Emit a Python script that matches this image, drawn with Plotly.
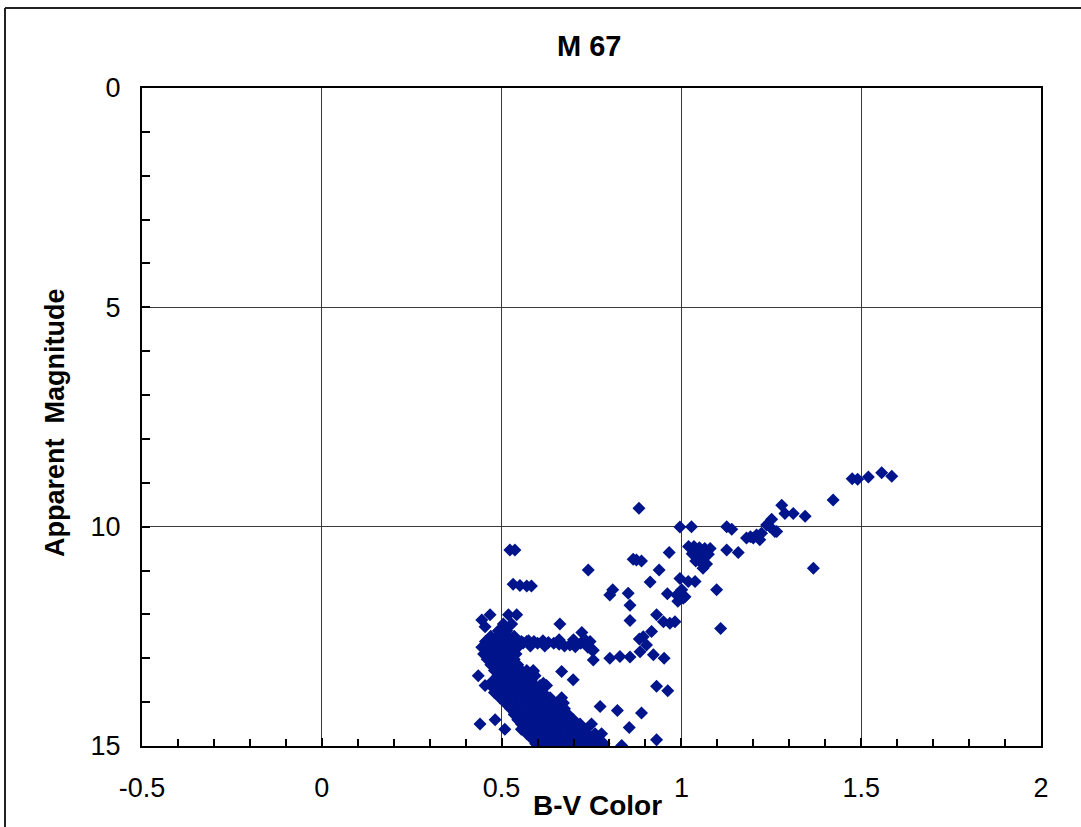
import plotly.graph_objects as go

# M 67 colour-magnitude diagram: (B-V, V) pairs grouped by region of the diagram

# Upper main sequence / turnoff, listed row by row: (V, [B-V values])
ms_rows = [
    (12.01, [0.468, 0.519, 0.542]),
    (12.13, [0.445]),
    (12.22, [0.505, 0.528]),
    (12.28, [0.454]),
    (12.37, [0.491, 0.514]),
    (12.50, [0.470, 0.490, 0.500, 0.520, 0.535]),
    (12.62, [0.455, 0.475, 0.490, 0.510, 0.525, 0.540, 0.555, 0.570]),
    (12.75, [0.445, 0.460, 0.480, 0.495, 0.510, 0.530, 0.545]),
    (12.90, [0.450, 0.465, 0.480, 0.495, 0.510, 0.525, 0.540]),
    (13.02, [0.460, 0.475, 0.490, 0.505, 0.520, 0.535]),
    (13.15, [0.470, 0.485, 0.500, 0.515, 0.530, 0.545]),
    (13.28, [0.480, 0.495, 0.510, 0.525, 0.540, 0.555, 0.570, 0.588]),
    (13.40, [0.435, 0.490, 0.505, 0.520, 0.535, 0.550, 0.565, 0.580, 0.593]),
    (13.52, [0.475, 0.490, 0.505, 0.520, 0.535, 0.550, 0.565, 0.583]),
    (13.62, [0.454, 0.470, 0.485, 0.500, 0.515, 0.530, 0.545, 0.560, 0.575, 0.590, 0.607, 0.625]),
    (13.78, [0.480, 0.495, 0.510, 0.525, 0.540, 0.555, 0.570, 0.585, 0.600, 0.615]),
    (13.90, [0.495, 0.510, 0.525, 0.540, 0.555, 0.570, 0.585, 0.600, 0.615, 0.635, 0.667]),
    (14.02, [0.510, 0.525, 0.540, 0.555, 0.570, 0.585, 0.600, 0.615, 0.630, 0.653, 0.672]),
    (14.15, [0.525, 0.540, 0.555, 0.570, 0.585, 0.600, 0.615, 0.630, 0.645, 0.660, 0.675]),
    (14.28, [0.535, 0.550, 0.565, 0.580, 0.595, 0.610, 0.625, 0.640, 0.655, 0.670, 0.685]),
    (14.40, [0.482, 0.545, 0.560, 0.575, 0.590, 0.605, 0.620, 0.635, 0.650, 0.665, 0.680, 0.700]),
    (14.50, [0.440, 0.555, 0.570, 0.585, 0.600, 0.615, 0.630, 0.645, 0.660, 0.675, 0.699, 0.718, 0.750]),
    (14.62, [0.509, 0.555, 0.570, 0.585, 0.600, 0.615, 0.630, 0.645, 0.660, 0.675, 0.690, 0.705, 0.720, 0.735]),
    (14.72, [0.570, 0.585, 0.600, 0.615, 0.630, 0.645, 0.660, 0.675, 0.690, 0.705, 0.720, 0.740, 0.760, 0.778]),
    (14.84, [0.585, 0.600, 0.615, 0.630, 0.645, 0.660, 0.675, 0.690, 0.705, 0.720, 0.735, 0.750, 0.765]),
    (14.95, [0.595, 0.610, 0.625, 0.640, 0.655, 0.670, 0.685, 0.700, 0.715, 0.730, 0.745, 0.760, 0.775, 0.785]),
]

# Subgiant branch running right from the turnoff
sg_bv = [0.560, 0.575, 0.590, 0.600, 0.615, 0.630, 0.645, 0.660, 0.675, 0.690, 0.705,
         0.720, 0.735, 0.740, 0.755, 0.700, 0.660, 0.620, 0.580, 0.746, 0.751]
sg_v = [12.65, 12.60, 12.62, 12.66, 12.60, 12.64, 12.66, 12.68, 12.72, 12.70, 12.74,
        12.66, 12.60, 12.75, 12.82, 12.58, 12.58, 12.72, 12.72, 12.62, 12.81]

# Lower giant branch and scattered stars between turnoff and giants
mid_bv = [0.662, 0.723, 0.741, 0.801, 0.809, 0.852, 0.857, 0.857, 0.875, 0.866, 0.889,
          0.882, 0.913, 0.938, 0.966, 0.961, 0.931, 0.950, 0.968, 0.982, 0.917, 0.894,
          0.883, 0.903, 0.885, 0.857, 0.829, 0.801, 0.755, 0.922, 0.952, 0.931, 0.962,
          0.667, 0.699, 0.774, 0.822, 0.889, 0.855, 0.931, 0.834, 0.523, 0.537, 0.532,
          0.551, 0.570, 0.583, 0.588, 0.616]
mid_v = [12.22, 12.41, 10.99, 11.56, 11.44, 11.52, 11.79, 12.14, 10.76, 10.74, 10.78,
         9.58, 11.26, 10.99, 10.59, 11.53, 12.01, 12.17, 12.20, 12.17, 12.39, 12.51,
         12.56, 12.70, 12.85, 12.97, 12.96, 13.00, 13.04, 12.92, 13.00, 13.64, 13.74,
         13.30, 13.49, 14.10, 14.19, 14.25, 14.58, 14.86, 14.99, 10.53, 10.53, 11.31,
         11.34, 11.35, 11.35, 13.30, 13.57]

# Red giant branch and red clump
rgb_bv = [0.996, 1.019, 1.038, 1.001, 0.987, 1.010, 0.990, 1.005, 1.098, 1.109,
          1.020, 1.035, 1.050, 1.065, 1.080, 1.030, 1.045, 1.060, 1.075, 1.040,
          1.055, 1.070, 1.060, 0.996, 1.028, 1.126, 1.140, 1.126, 1.158, 1.181,
          1.192, 1.200, 1.209, 1.218, 1.223, 1.237, 1.246, 1.251, 1.260, 1.265,
          1.279, 1.288, 1.311, 1.344, 1.367, 1.422, 1.475, 1.490, 1.520, 1.557, 1.585]
rgb_v = [11.18, 11.25, 11.25, 11.44, 11.56, 11.60, 11.70, 11.63, 11.44, 12.32,
         10.45, 10.45, 10.48, 10.50, 10.50, 10.62, 10.65, 10.66, 10.63, 10.78,
         10.82, 10.85, 10.95, 10.01, 10.00, 10.00, 10.06, 10.53, 10.59, 10.26,
         10.23, 10.26, 10.19, 10.30, 10.15, 9.96, 10.00, 9.83, 10.11, 10.11,
         9.51, 9.70, 9.70, 9.76, 10.95, 9.39, 8.91, 8.92, 8.87, 8.77, 8.85]

x_ticks = [-0.5, 0, 0.5, 1, 1.5, 2]
y_ticks = [0, 5, 10, 15]

bv, vmag = [], []
for v, row in ms_rows:
    bv.extend(row)
    vmag.extend([v] * len(row))
bv += sg_bv + mid_bv + rgb_bv
vmag += sg_v + mid_v + rgb_v

FONT = "Liberation Sans, Arial, sans-serif"

fig = go.Figure(go.Scatter(
    x=bv, y=vmag, mode="markers",
    marker=dict(symbol="diamond", size=10, color="#00148c", line=dict(width=0)),
    showlegend=False,
))

axis_common = dict(
    showline=True, linecolor="black", linewidth=2, mirror=True,
    showgrid=True, gridcolor="#3a3a3a", gridwidth=1,
    zeroline=False, ticks="inside", ticklen=8, tickwidth=2, tickcolor="black",
    tickfont=dict(family=FONT, size=27, color="black"),
)

fig.update_xaxes(
    range=[-0.5, 2], tickvals=x_ticks, ticktext=[f"{t:g}" for t in x_ticks],
    minor=dict(dtick=0.1, ticks="inside", ticklen=7, tickwidth=2, tickcolor="black", showgrid=False),
    ticklabelstandoff=17,
    **axis_common,
)
fig.update_yaxes(
    range=[15, 0], tickvals=y_ticks, ticktext=[str(t) for t in y_ticks],
    minor=dict(dtick=1, ticks="inside", ticklen=8, tickwidth=2, tickcolor="black", showgrid=False),
    ticklabelstandoff=14,
    **axis_common,
)

L, R, T, B = 142, 40, 88, 81
W, H = 1081, 827
pw, ph = W - L - R, H - T - B

def px_x(p):
    return (p - L) / pw

def px_y(p):
    return (H - B - p) / ph

fig.update_layout(
    width=W, height=H,
    margin=dict(l=L, r=R, t=T, b=B, pad=0),
    paper_bgcolor="white", plot_bgcolor="white",
    font=dict(family=FONT, color="black"),
    annotations=[
        dict(text="<b>M 67</b>", xref="paper", yref="paper", x=px_x(589), y=px_y(46),
             xanchor="center", yanchor="middle", showarrow=False,
             font=dict(family=FONT, size=29, color="black")),
        dict(text="<b>B-V Color</b>", xref="paper", yref="paper", x=px_x(597), y=px_y(805),
             xanchor="center", yanchor="middle", showarrow=False,
             font=dict(family=FONT, size=28, color="black")),
        dict(text="<b>Apparent  Magnitude</b>", xref="paper", yref="paper", x=px_x(55), y=px_y(423),
             xanchor="center", yanchor="middle", showarrow=False, textangle=-90,
             font=dict(family=FONT, size=27, color="black")),
    ],
    shapes=[
        dict(type="line", xref="paper", yref="paper", x0=px_x(5), x1=px_x(5),
             y0=px_y(8), y1=px_y(830), line=dict(color="#222222", width=2)),
        dict(type="line", xref="paper", yref="paper", x0=px_x(5), x1=px_x(1085),
             y0=px_y(8), y1=px_y(8), line=dict(color="#222222", width=2)),
    ],
)

fig.write_html("out.html")
